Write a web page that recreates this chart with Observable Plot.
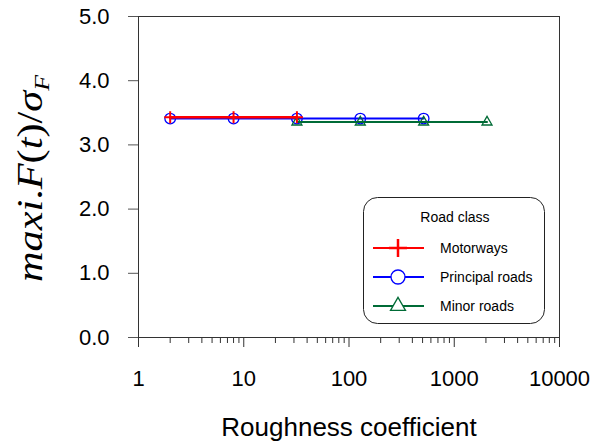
<!DOCTYPE html>
<html><head><meta charset="utf-8">
<script src="https://cdn.jsdelivr.net/npm/d3@7"></script>
<script src="https://cdn.jsdelivr.net/npm/@observablehq/plot@0.6"></script>
<style>body{margin:0;background:#fff} svg{display:block}</style>
</head><body><div id="chart"></div>
<script>
// ---- data ----
const seriesNames = ["Motorways", "Principal roads", "Minor roads"];
const seriesColors = ["#ff0000", "#0000ff", "#006b36"];
const motorwaysX = [2, 8, 32];
const motorwaysY = [3.43, 3.43, 3.43];
const principalX = [2, 8, 32, 128, 512];
const principalY = [3.41, 3.41, 3.41, 3.41, 3.41];
const minorX = [32, 128, 512, 2048];
const minorY = [3.355, 3.355, 3.355, 3.355];
const xMajorTicks = [1, 10, 100, 1000, 10000];
const yTicks = [0, 1, 2, 3, 4, 5];
const xLabel = "Roughness coefficient";
const legendTitle = "Road class";

const xMinorTicks = [];
for (const dec of [1, 10, 100, 1000]) for (let k = 2; k <= 9; k++) xMinorTicks.push(dec * k);

const toRows = (xs, ys) => xs.map((x, i) => ({x, y: ys[i]}));
const motorways = toRows(motorwaysX, motorwaysY);
const principal = toRows(principalX, principalY);
const minor = toRows(minorX, minorY);

const font = "'Liberation Sans', Arial, sans-serif";

const plot = Plot.plot({
  width: 592, height: 442,
  marginLeft: 138, marginRight: 33, marginTop: 16, marginBottom: 105,
  x: {type: "log", domain: [1, 10000]},
  y: {domain: [0, 5]},
  style: {fontFamily: font, background: "#fff", color: "#000"},
  marks: [
    Plot.axisX({ticks: xMinorTicks, tickSize: 6, tickFormat: () => "", stroke: "#333", label: null}),
    Plot.axisX({ticks: xMajorTicks, tickSize: 10, tickPadding: 23, tickFormat: d => String(d), fontSize: 22, stroke: "#333", label: null}),
    Plot.axisY({ticks: yTicks, tickSize: 10, tickPadding: 19, tickFormat: d3.format(".1f"), fontSize: 22, stroke: "#555", label: null}),
    Plot.frame({stroke: "#333"}),
    Plot.line(principal, {x: "x", y: "y", stroke: seriesColors[1], strokeWidth: 2}),
    Plot.dot(principal, {x: "x", y: "y", symbol: "circle", r: 5.3, stroke: seriesColors[1], strokeWidth: 1.3, fill: "none"}),
    Plot.line(minor, {x: "x", y: "y", stroke: seriesColors[2], strokeWidth: 2}),
    Plot.dot(minor, {x: "x", y: "y", symbol: "triangle", r: 3.7, stroke: seriesColors[2], strokeWidth: 1.3, fill: "none"}),
    Plot.line(motorways, {x: "x", y: "y", stroke: seriesColors[0], strokeWidth: 2.5}),
    Plot.dot(motorways, {x: "x", y: "y", symbol: "plus", r: 3.95, stroke: seriesColors[0], strokeWidth: 2}),
    Plot.text([xLabel], {frameAnchor: "bottom", lineAnchor: "top", dy: 80, fontSize: 26, text: d => d, fill: "#000"})
  ]
});
document.getElementById("chart").appendChild(plot);

const svg = d3.select(plot);
// y axis label (math)
const lab = svg.append("text")
  .attr("transform", "translate(42,178.5) rotate(-90)")
  .attr("text-anchor", "middle")
  .attr("textLength", 207).attr("lengthAdjust", "spacingAndGlyphs")
  .style("font-family", "'Liberation Serif', 'Times New Roman', serif")
  .style("font-size", "36px").attr("fill", "#000");
lab.append("tspan").style("font-style", "italic").text("maxi");
lab.append("tspan").text(".");
lab.append("tspan").style("font-style", "italic").text("F");
lab.append("tspan").text("(");
lab.append("tspan").style("font-style", "italic").text("t");
lab.append("tspan").text(")/");
lab.append("tspan").style("font-style", "italic").text("σ");
lab.append("tspan").style("font-style", "italic").style("font-size", "22px").attr("dy", 7).text("F");

// legend
const lg = svg.append("g").style("font-family", font).attr("text-anchor", "start");
lg.append("rect").attr("x", 363.5).attr("y", 197.5).attr("width", 181).attr("height", 126)
  .attr("rx", 14).attr("fill", "#fff").attr("stroke", "#222").attr("stroke-width", 1);
lg.append("text").attr("x", 455).attr("y", 222).attr("text-anchor", "middle")
  .style("font-size", "14px").text(legendTitle);
const legendSymbols = [d3.symbolPlus, d3.symbolCircle, d3.symbolTriangle];
const legendSizes = [108, 154, 97];
const legendSW = [2.5, 1.3, 1.3];
seriesNames.forEach((name, i) => {
  const y = 248 + i * 29;
  lg.append("line").attr("x1", 373).attr("x2", 424).attr("y1", y).attr("y2", y)
    .attr("stroke", seriesColors[i]).attr("stroke-width", 2);
  lg.append("path").attr("d", d3.symbol(legendSymbols[i], legendSizes[i])())
    .attr("transform", `translate(398,${y})`).attr("fill", i === 0 ? "none" : "#fff")
    .attr("stroke", seriesColors[i]).attr("stroke-width", legendSW[i]);
  lg.append("text").attr("x", 440).attr("y", y + 5).attr("text-anchor", "start")
    .style("font-size", "14px").text(name);
});
</script>
</body></html>
